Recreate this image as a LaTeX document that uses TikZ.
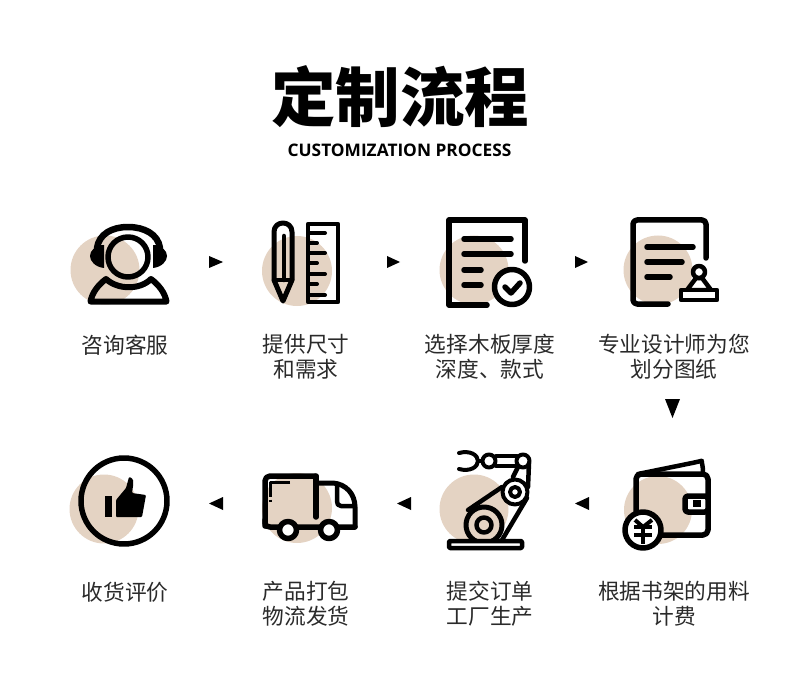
\documentclass[tikz,border=0pt]{standalone}
\usepackage{fontspec}
\setmainfont{Noto Sans CJK SC}
\newfontfamily\latinfont{Open Sans}
\usepackage{tikz}
\definecolor{blobcolor}{HTML}{E4D3C3}
\definecolor{labelcolor}{HTML}{2A2A2A}
\tikzset{
  blob/.style={fill=blobcolor, draw=none},
  icon/.style={line width=5.5pt, line join=round, line cap=round},
  thinicon/.style={line width=4pt, line join=round, line cap=round},
  marker/.style={fill=black, draw=none},
  steplabel/.style={text=labelcolor, font=\fontsize{21.7}{25}\selectfont, align=center, inner sep=0pt},
}

\begin{document}
\begin{tikzpicture}[x=1pt, y=-1pt]
  \useasboundingbox (0,0) rectangle (790,695);
  % title
  \node[font=\fontsize{64.5}{70}\selectfont\bfseries, inner sep=0pt] (title) at (400,97) {定制流程};
  \node[font=\fontsize{17.3}{20}\selectfont\latinfont\bfseries, inner sep=0pt] (subtitle) at (399.5,150) {CUSTOMIZATION PROCESS};

  % headset
  \begin{scope}[icon]
    \fill[blob] (105,270) circle (34.5);
    \draw (128,257) circle (20);
    \draw[line width=6.5pt] (97,248) .. controls (99,234) and (112,227) .. (128,227) .. controls (144,227) and (158,234) .. (160,248);
    \fill (104,245) -- (104,268) .. controls (95,267) and (90,261) .. (90,256) .. controls (90,251) and (95,245) .. (104,245) -- cycle;
    \fill (153,245) -- (153,268) .. controls (162,267) and (167,261) .. (167,256) .. controls (167,251) and (162,245) .. (153,245) -- cycle;
    \draw[line width=6pt] (90.5,301.5) .. controls (92,293) and (98,285) .. (106,279) .. controls (118,290) and (140,290) .. (151,279) .. controls (159,285) and (165,293) .. (166.5,301.5) -- cycle;
  \end{scope}
  \fill[marker] (209,256) -- (223,262) -- (209,268) -- cycle;

  % pencil and ruler
  \begin{scope}[icon]
    \fill[blob] (297,271) circle (35);
    \draw[line width=5pt] (274,280) -- (274,232) .. controls (274,220) and (292,220) .. (292,232) -- (292,280) -- (283,301) -- cycle;
    \draw[line width=4.5pt] (284,236) -- (284,280);
    \draw[line width=4.5pt] (274,280) -- (292,280);
    \draw[line width=4.5pt, line cap=butt] (308,224) rectangle (338,302);
    \foreach \yy/\xx in {233/325, 243/317, 253/325, 263/317, 274/325, 284/317, 295/325}
      \draw[line width=4pt] (308,\yy) -- (\xx,\yy);
  \end{scope}
  \fill[marker] (387,256) -- (400,262) -- (387,268) -- cycle;

  % document with check
  \begin{scope}[icon]
    \fill[blob] (474,270) circle (34.5);
    \draw (487,305) -- (449,305) -- (449,220) -- (525,220) -- (525,261);
    \foreach \yy/\xx in {239/511, 254/511, 270/481, 285/481}
      \draw (464,\yy) -- (\xx,\yy);
    \draw[fill=white] (512,287) circle (17.5);
    \draw (505,287) -- (511,293) -- (520,283);
  \end{scope}
  \fill[marker] (575,256) -- (588,262) -- (575,268) -- cycle;

  % document with stamp
  \begin{scope}[icon]
    \fill[blob] (658,270) circle (34.5);
    \draw[rounded corners=4pt] (668,304) -- (633,304) -- (633,220) -- (706,220) -- (706,258);
    \foreach \yy/\xx in {247/693, 262/682, 277/670}
      \draw (647,\yy) -- (\xx,\yy);
    \draw[line width=4.5pt, fill=white] (687,290) -- (696,278) -- (702,278) -- (711,290) -- cycle;
    \draw[line width=4.5pt, fill=white] (699,272) circle (6);
    \draw[line width=4.5pt, fill=white] (681,290) rectangle (717,300);
  \end{scope}
  \fill[marker] (665,399) -- (680,399) -- (672.5,418) -- cycle;

  % wallet
  \begin{scope}[icon]
    \fill[blob] (658,510) circle (34);
    \draw[line width=4.5pt, rounded corners=5pt] (638,474) -- (697,462) .. controls (701,461) and (703,464) .. (703,473);
    \draw[rounded corners=5pt] (636,474) rectangle (708,535);
    \draw[fill=white, rounded corners=3pt] (685,496) rectangle (708,512);
    \fill (693,500) rectangle (701,507);
    \draw[fill=white] (643,530) circle (18);
    \draw[line width=4pt, line cap=butt] (635,520) -- (643,527) -- (652,520);
    \draw[line width=4pt, line cap=butt] (634,527) -- (652,527);
    \draw[line width=4pt, line cap=butt] (634,535) -- (652,535);
    \draw[line width=4pt, line cap=butt] (643,527) -- (643,544);
  \end{scope}
  \fill[marker] (589,497) -- (589,510) -- (575,503.5) -- cycle;

  % robot arm
  \begin{scope}[thinicon]
    \fill[blob] (474,509) circle (34.5);
    \draw[line width=4.5pt] (468,510) -- (502,487);
    \draw[line width=4.5pt] (502,540) -- (527,498);
    \draw[line width=4.5pt] (513,477) -- (518,467);
    \draw[line width=4.5pt] (529,463) -- (528,487);
    \draw (496,456) -- (517,456);
    \draw (496,466) -- (517,466);
    \draw[fill=white] (515,492) circle (12.5);
    \draw (515,492) circle (5);
    \draw (523,461) circle (6.5);
    \draw (489,461) circle (6.5);
    \draw (459,453) .. controls (470,450) and (478,455) .. (478,461) .. controls (478,467) and (470,472) .. (459,469);
    \draw (478,461) -- (482,461);
    \draw[line width=5pt] (484,525) circle (18);
    \draw[line width=4.5pt] (484,525) circle (7.5);
    \draw[line width=4.5pt, fill=white, rounded corners=1pt] (449,541) rectangle (522,548);
  \end{scope}
  \fill[marker] (411,497) -- (411,510) -- (397,503.5) -- cycle;

  % truck
  \begin{scope}[icon]
    \fill[blob] (297,508) circle (35);
    \draw[rounded corners=5pt] (265,526) -- (265,476) -- (315,476);
    \draw (316,476) -- (316,517);
    \draw (265,520) -- (265,522) .. controls (265,526) and (267,527) .. (270,527) -- (355,527);
    \draw[line width=5pt] (318,483) -- (333,483) .. controls (346,484) and (355,494) .. (355,507) -- (355,527);
    \draw[line width=4.5pt] (337,484) -- (337,501) .. controls (337,504) and (338,506) .. (341,506) -- (355,506);
    \draw[line width=3pt, line cap=butt] (290,482) -- (270,482) -- (270,497);
    \draw[line width=3pt, line cap=butt] (270,499.5) -- (270,502);
    \draw[fill=white] (288,530) circle (8.5);
    \draw[fill=white] (329,530) circle (8.5);
  \end{scope}
  \fill[marker] (223,497) -- (223,510) -- (209,503.5) -- cycle;

  % thumbs up
  \begin{scope}[icon]
    \fill[blob] (104,509) circle (34.5);
    \draw (124,501) circle (43);
    \fill (105,496) rectangle (112,517);
    \fill[rounded corners=1pt] (116,517) -- (116,500) -- (126,488) -- (129,477) .. controls (133,478) and (134,482) .. (133,486) -- (132,493) -- (146,495) -- (142,517) -- cycle;
  \end{scope}

  % labels
  \node[steplabel] (consult) at (125,345) {咨询客服};
  \node[steplabel] (size) at (306,357) {提供尺寸\\和需求};
  \node[steplabel] (board) at (490,357) {选择木板厚度\\深度、款式};
  \node[steplabel] (design) at (674,357) {专业设计师为您\\划分图纸};
  \node[steplabel] (price) at (674,604) {根据书架的用料\\计费};
  \node[steplabel] (order) at (490,604) {提交订单\\工厂生产};
  \node[steplabel] (ship) at (306,604) {产品打包\\物流发货};
  \node[steplabel] (review) at (125,592) {收货评价};
\end{tikzpicture}
\end{document}
